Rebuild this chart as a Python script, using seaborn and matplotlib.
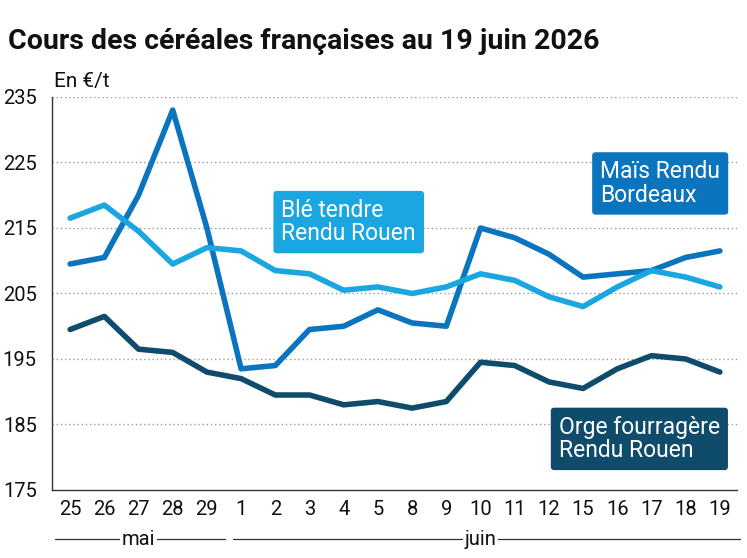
import matplotlib
matplotlib.use("Agg")
import matplotlib.pyplot as plt
import matplotlib.transforms as mtransforms
import seaborn as sns
import pandas as pd

days = ["25", "26", "27", "28", "29", "1", "2", "3", "4", "5", "8", "9",
        "10", "11", "12", "15", "16", "17", "18", "19"]
mais = [209.5, 210.5, 220, 233, 215, 193.5, 194, 199.5, 200, 202.5, 200.5, 200,
        215, 213.5, 211, 207.5, 208, 208.5, 210.5, 211.5]
ble = [216.5, 218.5, 214.5, 209.5, 212, 211.5, 208.5, 208, 205.5, 206, 205, 206,
       208, 207, 204.5, 203, 206, 208.5, 207.5, 206]
orge = [199.5, 201.5, 196.5, 196, 193, 192, 189.5, 189.5, 188, 188.5, 187.5, 188.5,
        194.5, 194, 191.5, 190.5, 193.5, 195.5, 195, 193]
yticks = [175, 185, 195, 205, 215, 225, 235]

series = {"Maïs Rendu\nBordeaux": mais,
          "Blé tendre\nRendu Rouen": ble,
          "Orge fourragère\nRendu Rouen": orge}
colors = {"Maïs Rendu\nBordeaux": "#0b74be",
          "Blé tendre\nRendu Rouen": "#1aa6e0",
          "Orge fourragère\nRendu Rouen": "#0f4c6c"}

rows = []
for name, vals in series.items():
    for i, v in enumerate(vals):
        rows.append({"idx": i, "prix": v, "serie": name})
df = pd.DataFrame(rows)

sns.set_theme(style="white")
plt.rcParams["font.family"] = ["Roboto", "DejaVu Sans"]

fig = plt.figure(figsize=(7.47, 5.58), dpi=100)
ax = fig.add_axes([0.0696, 0.1219, 0.917, 0.7043])

sns.lineplot(data=df, x="idx", y="prix", hue="serie", palette=colors,
             linewidth=4, legend=False, ax=ax, zorder=3)

ax.set_xlim(-0.53, 19.5)
ax.set_ylim(175, 235)
ax.set_yticks(yticks)
ax.set_yticklabels([str(t) for t in yticks], fontsize=14.5)
ax.set_xticks(range(len(days)))
ax.set_xticklabels(days, fontsize=14.5)
ax.tick_params(axis="both", length=0, colors="#111111")
ax.tick_params(axis="y", pad=11)
ax.tick_params(axis="x", pad=7)
ax.set_xlabel("")
ax.set_ylabel("")

for t in yticks[1:]:
    ax.axhline(t, color="#9a9a9a", linestyle=(0, (1, 2)), linewidth=1, zorder=1)

for s in ["top", "right"]:
    ax.spines[s].set_visible(False)
for s in ["left", "bottom"]:
    ax.spines[s].set_color("#333333")
    ax.spines[s].set_linewidth(1)

# labels
box = dict(boxstyle="round,pad=0.35,rounding_size=0.15", linewidth=0)
lab_pos = {"Blé tendre\nRendu Rouen": (6.18, 215.9),
           "Maïs Rendu\nBordeaux": (15.5, 221.8),
           "Orge fourragère\nRendu Rouen": (14.29, 182.8)}
for name, (xx, yy) in lab_pos.items():
    ax.text(xx, yy, name, color="white", fontsize=16.5, va="center", ha="left",
            linespacing=1.02, zorder=5,
            bbox=dict(box, facecolor=colors[name]))

ax.text(0.003, 1.015, "En €/t", transform=ax.transAxes, fontsize=15,
        ha="left", va="bottom", color="#111111")
fig.text(0.011, 0.925, "Cours des céréales françaises au 19 juin 2026",
         fontsize=20.5, fontweight="bold", ha="left", va="center", color="#111111")

# month groups
trans = mtransforms.blended_transform_factory(ax.transData, ax.transAxes)
ymo = -0.125
for x0, x1, xc, label in [(-0.44, 4.54, 2, "mai"), (4.77, 19.6, 12, "juin")]:
    ax.plot([x0, x1], [ymo, ymo], transform=trans, color="#333333",
            linewidth=0.9, clip_on=False)
    ax.text(xc, ymo, label, transform=trans, ha="center", va="center",
            fontsize=14.5, color="#111111",
            bbox=dict(facecolor="white", edgecolor="none", pad=1.5))

fig.savefig("out.png", dpi=100)
